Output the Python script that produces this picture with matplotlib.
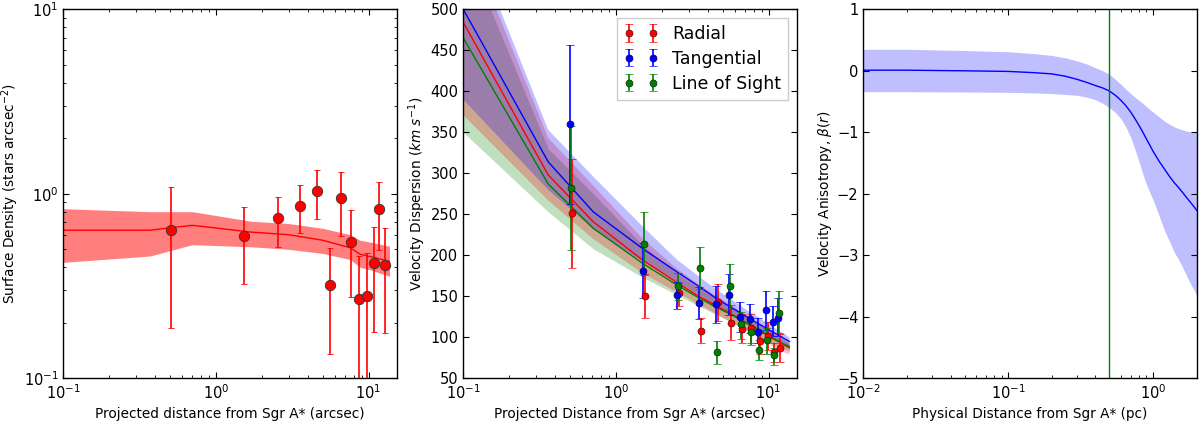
import matplotlib
matplotlib.use("Agg")
import matplotlib.pyplot as plt
import numpy as np

# ---------------- data ----------------
# Left panel: surface density
sd_r = [0.51, 1.53, 2.55, 3.56, 4.6, 5.6, 6.6, 7.65, 8.7, 9.75, 10.8, 11.75, 12.8]
sd_val = [0.64, 0.59, 0.74, 0.86, 1.03, 0.32, 0.95, 0.55, 0.27, 0.28, 0.42, 0.83, 0.41]
sd_hi = [1.09, 0.85, 0.96, 1.11, 1.35, 0.51, 1.31, 0.82, 0.46, 0.475, 0.66, 1.16, 0.65]
sd_lo = [0.188, 0.325, 0.516, 0.615, 0.726, 0.136, 0.594, 0.275, 0.05, 0.05, 0.179, 0.493, 0.177]

sdm_r = [0.1, 0.37, 0.7, 1.7, 3.0, 5.0, 7.6, 8.8, 10.5, 13.7]
sdm_med = [0.635, 0.635, 0.675, 0.62, 0.60, 0.56, 0.51, 0.47, 0.455, 0.43]
sdm_hi = [0.83, 0.80, 0.80, 0.71, 0.69, 0.65, 0.60, 0.56, 0.545, 0.52]
sdm_lo = [0.425, 0.46, 0.53, 0.516, 0.50, 0.475, 0.44, 0.40, 0.385, 0.357]

# Middle panel: velocity dispersion data
vd_r = [0.51, 1.53, 2.55, 3.56, 4.6, 5.6, 6.6, 7.65, 8.7, 9.75, 10.8, 11.75]
rad_v = [251, 150, 154, 108, 143, 118, 110, 111, 95, 102, 82, 87]
rad_hi = [318, 177, 166, 123, 165, 139, 128, 128, 105, 119, 93, 104]
rad_lo = [184, 123, 138, 93, 120, 97, 93, 93, 80, 85, 70, 70]
tan_v = [360, 181, 151, 142, 140, 151, 125, 122, 107, 133, 119, 124]
tan_hi = [456, 215, 167, 161, 163, 177, 143, 141, 124, 156, 138, 148]
tan_lo = [263, 148, 134, 122, 118, 127, 106, 105, 93, 109, 101, 101]
los_v = [282, 214, 162, 185, 82, 162, 116, 107, 85, 97, 78, 130]
los_hi = [358, 253, 179, 210, 95, 189, 131, 120, 97, 111, 87, 156]
los_lo = [207, 176, 145, 159, 68, 135, 98, 90, 72, 80, 66, 105]

# Middle panel: models
vm_r = [0.1, 0.36, 0.71, 1.5, 2.5, 3.5, 4.5, 5.5, 6.5, 7.5, 8.5, 9.5, 10.5, 11.5, 12.5, 13.7]
tan_m = [500, 314, 253, 208, 180, 162, 148, 138, 130, 123, 117, 112, 107, 103, 99, 95]
tan_mhi = [612, 353, 296, 235, 195, 174, 159, 148, 139, 131, 125, 119, 114, 109, 105, 100]
tan_mlo = [390, 280, 232, 192, 168, 152, 139, 129, 121, 115, 109, 104, 100, 96, 92, 89]
rad_m = [484, 298, 241, 194, 167, 150, 139, 130, 122, 115, 109, 104, 99, 95, 91, 87]
rad_mhi = [600, 343, 285, 220, 184, 164, 151, 141, 132, 124, 117, 111, 106, 101, 97, 92]
rad_mlo = [371, 267, 220, 178, 155, 140, 129, 120, 113, 106, 100, 95, 90, 86, 82, 79]
los_m = [465, 287, 233, 190, 164, 148, 137, 129, 122, 116, 110, 105, 100, 96, 92, 89]
los_mhi = [580, 330, 275, 212, 178, 160, 148, 139, 131, 124, 118, 112, 107, 102, 98, 94]
los_mlo = [350, 253, 208, 173, 152, 138, 128, 120, 113, 107, 102, 97, 93, 89, 86, 83]

# Right panel: anisotropy
b_r = [0.01, 0.02, 0.05, 0.1, 0.15, 0.2, 0.25, 0.3, 0.35, 0.4, 0.45, 0.5, 0.55, 0.6,
       0.65, 0.7, 0.75, 0.8, 0.85, 0.9, 0.95, 1.0, 1.1, 1.2, 1.3, 1.4, 1.5, 1.6, 1.7,
       1.8, 1.9, 2.0]
b_med = [0.01, 0.01, 0.0, -0.01, -0.03, -0.05, -0.09, -0.14, -0.19, -0.24, -0.28, -0.33,
         -0.40, -0.48, -0.57, -0.67, -0.78, -0.89, -1.0, -1.11, -1.21, -1.31, -1.47,
         -1.60, -1.72, -1.82, -1.90, -1.98, -2.06, -2.13, -2.20, -2.27]
b_hi = [0.35, 0.35, 0.33, 0.31, 0.28, 0.25, 0.21, 0.16, 0.11, 0.05, 0.0, -0.06, -0.14,
        -0.22, -0.30, -0.37, -0.43, -0.48, -0.53, -0.58, -0.63, -0.67, -0.75, -0.82,
        -0.87, -0.91, -0.94, -0.96, -0.98, -0.99, -1.0, -1.0]
b_lo = [-0.34, -0.34, -0.345, -0.35, -0.36, -0.37, -0.385, -0.40, -0.43, -0.47, -0.53,
        -0.60, -0.68, -0.78, -0.92, -1.08, -1.28, -1.48, -1.68, -1.85, -1.98, -2.1,
        -2.36, -2.6, -2.78, -2.95, -3.07, -3.2, -3.33, -3.45, -3.55, -3.65]
b_vline = 0.5

# ---------------- style ----------------
plt.rcParams.update({
    "font.family": "DejaVu Sans",
    "xtick.direction": "in", "ytick.direction": "in",
    "xtick.top": True, "ytick.right": True,
    "xtick.major.size": 4, "ytick.major.size": 4,
    "xtick.minor.size": 2, "ytick.minor.size": 2,
    "xtick.labelsize": 10.5, "ytick.labelsize": 10.5,
    "axes.labelsize": 9.8,
    "axes.linewidth": 1.0,
})

fig = plt.figure(figsize=(11.99, 4.23), dpi=100)
W = 0.2781
H = 0.8723
B = 0.1057
ax1 = fig.add_axes([0.0528, B, W, H])
ax2 = fig.add_axes([0.3864, B, W, H])
ax3 = fig.add_axes([0.7200, B, W, H])

def yerr(v, lo, hi):
    v = np.asarray(v, float)
    return [v - np.asarray(lo, float), np.asarray(hi, float) - v]

# ---- Left ----
ax1.fill_between(sdm_r, sdm_lo, sdm_hi, color="red", alpha=0.5, lw=0)
ax1.plot(sdm_r, sdm_med, color="red", lw=1)
ax1.errorbar(sd_r, sd_val, yerr=yerr(sd_val, sd_lo, sd_hi), fmt="o", color="red",
             ms=7.5, mec="#333333", mew=0.6, ecolor="red", elinewidth=1.2,
             capsize=2, capthick=1.2)
ax1.set_xscale("log"); ax1.set_yscale("log")
ax1.set_xlim(0.1, 15.3); ax1.set_ylim(0.1, 10)
ax1.set_xlabel("Projected distance from Sgr A* (arcsec)")
ax1.set_ylabel("Surface Density (stars arcsec$^{-2}$)", labelpad=2)

# ---- Middle ----
ax2.fill_between(vm_r, los_mlo, los_mhi, color="green", alpha=0.25, lw=0)
ax2.fill_between(vm_r, rad_mlo, rad_mhi, color="red", alpha=0.25, lw=0)
ax2.fill_between(vm_r, tan_mlo, tan_mhi, color="blue", alpha=0.25, lw=0)
ax2.plot(vm_r, tan_m, color="blue", lw=1)
ax2.plot(vm_r, rad_m, color="red", lw=1)
ax2.plot(vm_r, los_m, color="green", lw=1)
vr = np.asarray(vd_r)
ax2.errorbar(vr * 1.01, rad_v, yerr=yerr(rad_v, rad_lo, rad_hi), fmt="o", color="red",
             ms=5, mec="#660000", mew=0.5, elinewidth=1.2, capsize=3, capthick=1.2, label="Radial")
ax2.errorbar(vr * 0.985, tan_v, yerr=yerr(tan_v, tan_lo, tan_hi), fmt="o", color="blue",
             ms=5, mec="#000066", mew=0.5, elinewidth=1.2, capsize=3, capthick=1.2, label="Tangential")
ax2.errorbar(vr, los_v, yerr=yerr(los_v, los_lo, los_hi), fmt="o", color="green",
             ms=5, mec="#003300", mew=0.5, elinewidth=1.2, capsize=3, capthick=1.2, label="Line of Sight")
ax2.set_xscale("log")
ax2.set_xlim(0.1, 15.3); ax2.set_ylim(50, 500)
ax2.set_yticks(np.arange(50, 501, 50))
ax2.set_xlabel("Projected Distance from Sgr A* (arcsec)")
ax2.set_ylabel("Velocity Dispersion ($km\\ s^{-1}$)", labelpad=2)
leg = ax2.legend(loc="upper right", numpoints=2, fontsize=12.5, fancybox=False,
                 edgecolor="0.8", framealpha=1.0, borderpad=0.4, labelspacing=0.4,
                 handletextpad=0.8)

# ---- Right ----
ax3.fill_between(b_r, b_lo, b_hi, color="blue", alpha=0.25, lw=0)
ax3.plot(b_r, b_med, color="blue", lw=1)
ax3.axvline(b_vline, color="green", lw=1)
ax3.set_xscale("log")
ax3.set_xlim(0.01, 2.0); ax3.set_ylim(-5, 1)
ax3.set_yticks(np.arange(-5, 2, 1))
ax3.set_xlabel("Physical Distance from Sgr A* (pc)")
ax3.set_ylabel("Velocity Anisotropy, $\\beta(r)$", labelpad=2)

for ax in (ax1, ax2, ax3):
    ax.tick_params(which="both", top=True, right=True)

fig.savefig("out.png", dpi=100)
